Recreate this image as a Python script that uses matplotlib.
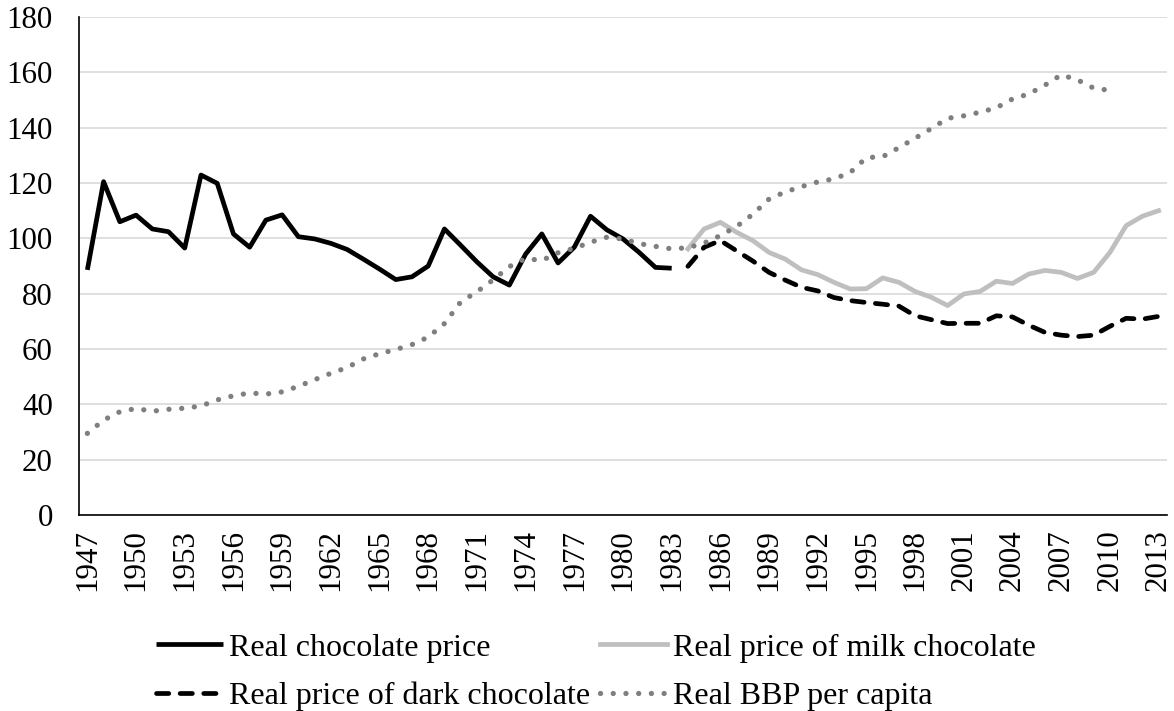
import numpy as np
import matplotlib
matplotlib.use("Agg")
import matplotlib.pyplot as plt

# ── Data (index 100 scale) ───────────────────────────────────────────────────
years_choc = list(range(1947, 1984))
years_split = list(range(1984, 2014))
years_bbp = list(range(1947, 2011))

choc_price = [88.6, 120.5, 106.0, 108.4, 103.4, 102.4, 96.5, 122.9, 119.9, 101.6,
              96.8, 106.6, 108.5, 100.6, 99.8, 98.2, 96.0, 92.5, 88.9, 85.1,
              86.1, 90.0, 103.4, 97.5, 91.5, 86.1, 83.1, 94.3, 101.6, 91.1,
              96.8, 108.0, 103.1, 99.8, 94.9, 89.5, 89.2]

milk_price = [96.2, 103.4, 105.8, 102.2, 99.2, 94.9, 92.5, 88.6, 86.9, 84.1,
              81.7, 81.8, 85.7, 84.1, 80.8, 78.7, 75.7, 79.9, 80.8, 84.5,
              83.7, 87.1, 88.4, 87.7, 85.5, 87.7, 94.9, 104.6, 108.0, 110.0]

dark_price = [89.9, 96.8, 99.2, 95.5, 91.8, 87.7, 84.9, 82.3, 81.0, 78.6,
              77.5, 76.8, 76.2, 75.5, 72.0, 70.6, 69.2, 69.3, 69.3, 72.0,
              71.6, 68.6, 66.0, 65.0, 64.5, 65.0, 68.2, 71.1, 70.8, 71.8]

bbp_capita = [29.5, 34.3, 37.3, 38.5, 37.5, 38.2, 38.6, 39.4, 41.6, 43.1,
              44.1, 43.7, 44.5, 46.5, 48.9, 51.2, 53.3, 56.4, 58.3, 59.8,
              61.6, 64.3, 69.2, 77.0, 80.7, 85.0, 89.8, 92.7, 92.0, 94.8,
              96.4, 98.6, 100.4, 99.8, 98.1, 97.1, 96.2, 96.6, 98.3, 101.0,
              104.3, 108.7, 114.2, 116.8, 118.7, 120.4, 121.5, 123.8, 129.2, 129.5,
              132.8, 136.2, 139.7, 143.4, 144.3, 145.6, 147.2, 150.4, 152.2, 155.4,
              159.1, 157.3, 154.3, 153.5]

tick_years = list(range(1947, 2014, 3))
y_ticks = list(range(0, 181, 20))

# ── Style ────────────────────────────────────────────────────────────────────
plt.rcParams["font.family"] = ["Liberation Serif", "DejaVu Serif"]
TICK_FS = 22.3
LEG_FS = 23
LW = 3.4

fig = plt.figure(figsize=(11.74, 7.11), dpi=100)
ax = fig.add_axes([0.0675, 0.2757, 0.9263, 0.7003])

ax.plot(years_choc, choc_price, color="black", lw=LW,
        solid_joinstyle="round", solid_capstyle="butt",
        label="Real chocolate price")
ax.plot(years_split, dark_price, color="black", lw=LW,
        linestyle=(0, (2.6, 2.4)), dash_capstyle="round", dash_joinstyle="round",
        label="Real price of dark chocolate")
ax.plot(years_split, milk_price, color="#bfbfbf", lw=LW,
        solid_joinstyle="round", label="Real price of milk chocolate")
ax.plot(years_bbp, bbp_capita, color="#7f7f7f", lw=3.8,
        linestyle=(0, (0.01, 2.4)), dash_capstyle="round",
        label="Real BBP per capita")

ax.set_xlim(1946.5, 2013.5)
ax.set_ylim(0, 180)
ax.set_yticks(y_ticks)
ax.set_xticks(tick_years)
ax.set_xticklabels([str(y) for y in tick_years], rotation=90)
ax.tick_params(axis="y", length=0, pad=19, labelsize=TICK_FS)
ax.tick_params(axis="x", length=0, pad=10, labelsize=TICK_FS)

ax.grid(axis="y", color="#d9d9d9", lw=1.2)
ax.set_axisbelow(True)
for side in ["top", "right"]:
    ax.spines[side].set_visible(False)
for side in ["left", "bottom"]:
    ax.spines[side].set_color("black")
    ax.spines[side].set_linewidth(1.2)

# legend: two columns under the axis
fig.legend(loc="center", bbox_to_anchor=(0.5077, 0.0545), ncol=2,
           frameon=False, fontsize=LEG_FS, handlelength=2.1, handletextpad=0.2,
           columnspacing=0.3, labelspacing=0.6, borderpad=0)

fig.savefig("out.png", dpi=100)
